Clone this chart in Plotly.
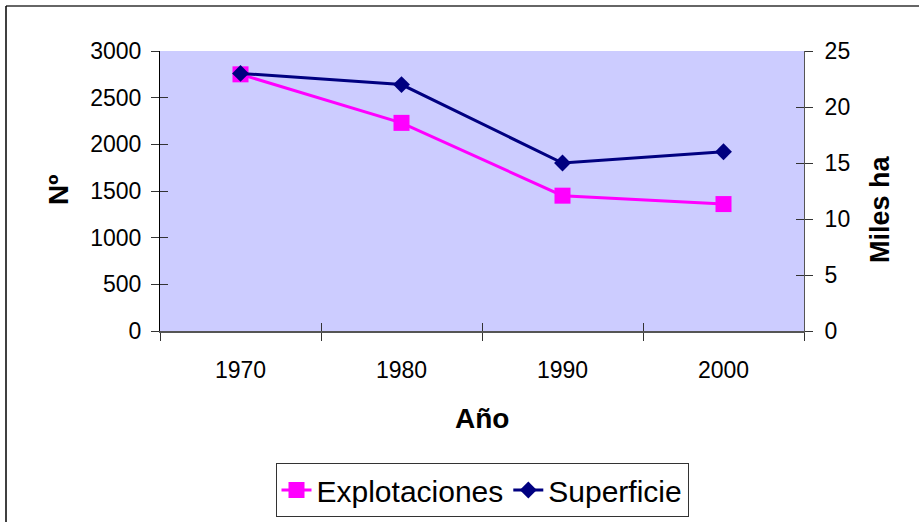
import plotly.graph_objects as go

years = ["1970", "1980", "1990", "2000"]
explotaciones = [2750, 2230, 1450, 1360]
superficie = [23, 22, 15, 16]
left_ticks = [0, 500, 1000, 1500, 2000, 2500, 3000]
right_ticks = [0, 5, 10, 15, 20, 25]

PINK = "#FF00FF"
NAVY = "#000080"
FONT = "Liberation Sans, Arial, sans-serif"

W, H = 920, 522
L, T = 160, 51
PW, PH = 644, 280
R, B = W - L - PW, H - T - PH

def px(x):
    return (x - L) / PW

def py(y):
    return (T + PH - y) / PH

fig = go.Figure()
fig.add_trace(go.Scatter(
    x=years, y=explotaciones, name="Explotaciones", mode="lines+markers",
    line=dict(color=PINK, width=3),
    marker=dict(symbol="square", size=16, color=PINK),
    xaxis="x", yaxis="y"))
fig.add_trace(go.Scatter(
    x=years, y=superficie, name="Superficie", mode="lines+markers",
    line=dict(color=NAVY, width=3),
    marker=dict(symbol="diamond", size=13, color=NAVY),
    xaxis="x", yaxis="y2"))
# empty helper traces for inside tick overlays
fig.add_trace(go.Scatter(x=[None], y=[None], xaxis="x2", yaxis="y3", showlegend=False, hoverinfo="skip"))
fig.add_trace(go.Scatter(x=[None], y=[None], xaxis="x2", yaxis="y4", showlegend=False, hoverinfo="skip"))

fig.update_layout(
    width=W, height=H, autosize=False,
    margin=dict(l=L, r=R, t=T, b=B, pad=0, autoexpand=False),
    paper_bgcolor="white", plot_bgcolor="#CCCCFF",
    font=dict(family=FONT, size=23, color="black"),
    showlegend=True,
    legend=dict(orientation="h", x=0.5, xanchor="center",
                yref="container", y=(H - 490) / H, yanchor="middle",
                bordercolor="#333333", borderwidth=1, bgcolor="white",
                font=dict(size=30, family=FONT), traceorder="normal"),
    xaxis=dict(type="category", categoryorder="array", categoryarray=years,
               range=[-0.5, 3.5], tickson="boundaries", ticks="outside", ticklen=8,
               tickcolor="#333333", tickwidth=1, showgrid=False, zeroline=False,
               showline=True, linecolor="#555555", linewidth=2,
               tickfont=dict(size=23), ticklabelstandoff=17),
    xaxis2=dict(overlaying="x", range=[-0.5, 3.5], tickvals=[-0.5, 0.5, 1.5, 2.5, 3.5],
                ticks="inside", ticklen=8, tickcolor="#333333", showticklabels=False,
                showgrid=False, zeroline=False, showline=False, side="bottom", anchor="y3"),
    yaxis=dict(range=[0, 3000], tickvals=left_ticks, ticks="outside", ticklen=8,
               tickcolor="#333333", showgrid=False, zeroline=False, showline=True,
               linecolor="black", linewidth=1, tickfont=dict(size=23), ticklabelstandoff=5),
    yaxis2=dict(range=[0, 25], tickvals=right_ticks, overlaying="y", side="right",
                ticks="outside", ticklen=8, tickcolor="#333333", showgrid=False,
                zeroline=False, showline=True, linecolor="#555555", linewidth=1,
                tickfont=dict(size=23), ticklabelstandoff=7),
    yaxis3=dict(range=[0, 3000], tickvals=left_ticks, overlaying="y", side="left",
                ticks="inside", ticklen=8, tickcolor="#333333", showticklabels=False,
                showgrid=False, zeroline=False, showline=False),
    yaxis4=dict(range=[0, 25], tickvals=right_ticks, overlaying="y", side="right",
                ticks="inside", ticklen=8, tickcolor="#333333", showticklabels=False,
                showgrid=False, zeroline=False, showline=False),
    annotations=[
        dict(text="<b>Nº</b>", x=px(58), y=py(190), xref="paper", yref="paper",
             textangle=-90, showarrow=False, font=dict(size=28, family=FONT),
             xanchor="center", yanchor="middle"),
        dict(text="<b>Miles ha</b>", x=px(880), y=py(209), xref="paper", yref="paper",
             textangle=-90, showarrow=False, font=dict(size=27, family=FONT),
             xanchor="center", yanchor="middle"),
        dict(text="<b>Año</b>", x=0.5, y=py(418), xref="paper", yref="paper",
             showarrow=False, font=dict(size=28, family=FONT),
             xanchor="center", yanchor="middle"),
    ],
    shapes=[
        dict(type="line", xref="paper", yref="paper", x0=px(6), x1=px(919), y0=py(6), y1=py(6),
             line=dict(color="#333333", width=1.5)),
        dict(type="line", xref="paper", yref="paper", x0=px(6), x1=px(6), y0=py(6), y1=py(530),
             line=dict(color="black", width=1.5)),
    ],
)

fig.write_html("out.html", config={"displayModeBar": False},
               post_script="document.body.style.margin='0';document.body.style.overflow='hidden';")
